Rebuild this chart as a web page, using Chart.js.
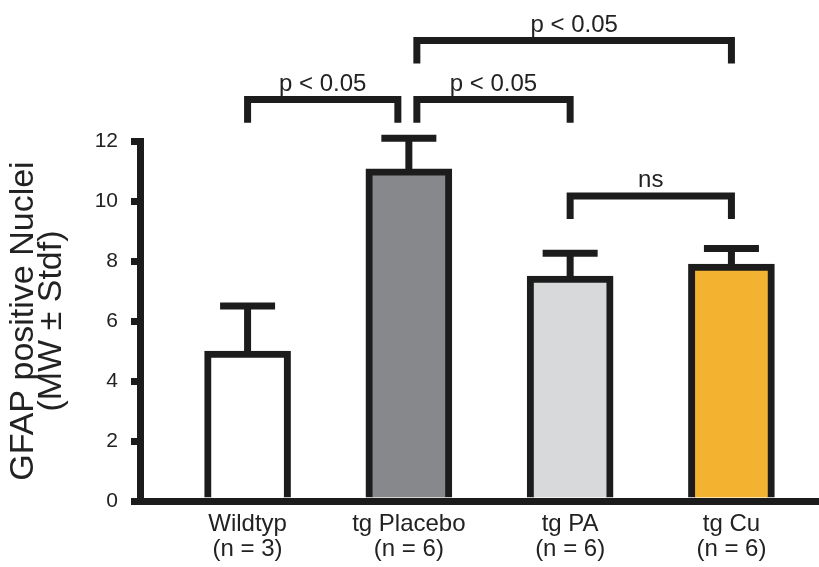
<!DOCTYPE html>
<html>
<head>
<meta charset="utf-8">
<script src="https://cdn.jsdelivr.net/npm/chart.js@4/dist/chart.umd.min.js"></script>
<style>
  html, body { margin: 0; padding: 0; background: #ffffff; }
  #wrap { width: 819px; height: 567px; }
</style>
</head>
<body>
<div id="wrap"><canvas id="gfapChart" width="819" height="567"></canvas></div>
<script>
// Data
const groups = ["Wildtyp", "tg Placebo", "tg PA", "tg Cu"];
const sampleSizes = ["(n = 3)", "(n = 6)", "(n = 6)", "(n = 6)"];
const means = [5.0, 11.07, 7.5, 7.9];
const stdDevs = [1.5, 1.02, 0.76, 0.52];
const yTicks = [0, 2, 4, 6, 8, 10, 12];

const barColors = ["#ffffff", "#87888b", "#d8d9db", "#f3b22f"];
const ink = "#1c1c1c";
const fontFamily = "'Liberation Sans', Arial, Helvetica, sans-serif";

// significance brackets (level in y units, nudge in px for shared legs)
const comparisons = [
  { from: 0, to: 1, level: 13.38, label: "p < 0.05", nudge: [0, -11] },
  { from: 1, to: 2, level: 13.38, label: "p < 0.05", nudge: [8, 0] },
  { from: 1, to: 3, level: 15.35, label: "p < 0.05", nudge: [8, 0] },
  { from: 2, to: 3, level: 10.17, label: "ns", nudge: [0, 0] },
];
const legDrop = 0.77;

// error bars: mean + SD, drawn through the scales
const errorBarPlugin = {
  id: "errorBars",
  afterDatasetsDraw(chart) {
    const { ctx, scales: { x, y } } = chart;
    ctx.save();
    ctx.strokeStyle = ink;
    ctx.lineWidth = 7;
    ctx.lineCap = "butt";
    means.forEach((m, i) => {
      const px = x.getPixelForValue(i);
      const yBase = y.getPixelForValue(m);
      const yTop = y.getPixelForValue(m + stdDevs[i]);
      ctx.beginPath();
      ctx.moveTo(px, yBase);
      ctx.lineTo(px, yTop);
      ctx.moveTo(px - 27.5, yTop);
      ctx.lineTo(px + 27.5, yTop);
      ctx.stroke();
    });
    ctx.restore();
  },
};

const bracketPlugin = {
  id: "brackets",
  afterDraw(chart) {
    const { ctx, scales: { x, y } } = chart;
    ctx.save();
    ctx.strokeStyle = ink;
    ctx.lineWidth = 7;
    ctx.lineJoin = "miter";
    ctx.lineCap = "butt";
    ctx.fillStyle = "#222222";
    ctx.font = "24px " + fontFamily;
    ctx.textAlign = "center";
    ctx.textBaseline = "alphabetic";
    comparisons.forEach((c) => {
      const x1 = x.getPixelForValue(c.from) + c.nudge[0];
      const x2 = x.getPixelForValue(c.to) + c.nudge[1];
      const yh = y.getPixelForValue(c.level);
      const yl = y.getPixelForValue(c.level - legDrop);
      ctx.beginPath();
      ctx.moveTo(x1, yl);
      ctx.lineTo(x1, yh);
      ctx.lineTo(x2, yh);
      ctx.lineTo(x2, yl);
      ctx.stroke();
      ctx.fillText(c.label, (x1 + x2) / 2, yh - 9);
    });
    ctx.restore();
  },
};

const chartData = {
  datasets: [
    {
      data: means.map((m, i) => ({ x: i, y: m })),
      backgroundColor: barColors,
      borderColor: ink,
      borderWidth: 7,
      barThickness: 86,
    },
  ],
};

const chartConfig = {
  type: "bar",
  data: chartData,
  options: {
    responsive: false,
    animation: false,
    layout: { padding: { top: 141, right: 0, bottom: 0, left: 0 } },
    plugins: {
      legend: { display: false },
      tooltip: { enabled: false },
    },
    scales: {
      x: {
        type: "linear",
        min: -0.667,
        max: 3.543,
        offset: false,
        z: 1,
        grid: { display: false, drawTicks: false },
        border: { display: true, color: ink, width: 7 },
        afterBuildTicks: (scale) => {
          scale.ticks = groups.map((_, i) => ({ value: i }));
        },
        afterFit: (scale) => {
          scale.height = 66;
        },
        ticks: {
          autoSkip: false,
          maxRotation: 0,
          padding: 11,
          color: "#222222",
          font: { family: fontFamily, size: 24, lineHeight: 1.04 },
          callback: (value) => [groups[value], sampleSizes[value]],
        },
      },
      y: {
        min: 0,
        max: 12,
        afterBuildTicks: (scale) => {
          scale.ticks = yTicks.map((v) => ({ value: v }));
        },
        afterFit: (scale) => {
          scale.width = 140;
        },
        grid: {
          display: true,
          drawOnChartArea: false,
          drawTicks: true,
          tickLength: 9,
          lineWidth: 7,
          color: ink,
        },
        border: { display: true, color: ink, width: 7 },
        ticks: {
          padding: 13,
          color: "#222222",
          font: { family: fontFamily, size: 21 },
        },
        title: {
          display: true,
          text: ["GFAP positive Nuclei", "(MW \u00b1 Stdf)"],
          color: "#222222",
          font: { family: fontFamily, size: 34, lineHeight: 0.82 },
          padding: { top: 10, bottom: 0 },
        },
      },
    },
  },
  plugins: [errorBarPlugin, bracketPlugin],
};

const gfapChart = new Chart(document.getElementById("gfapChart"), chartConfig);
</script>
</body>
</html>
